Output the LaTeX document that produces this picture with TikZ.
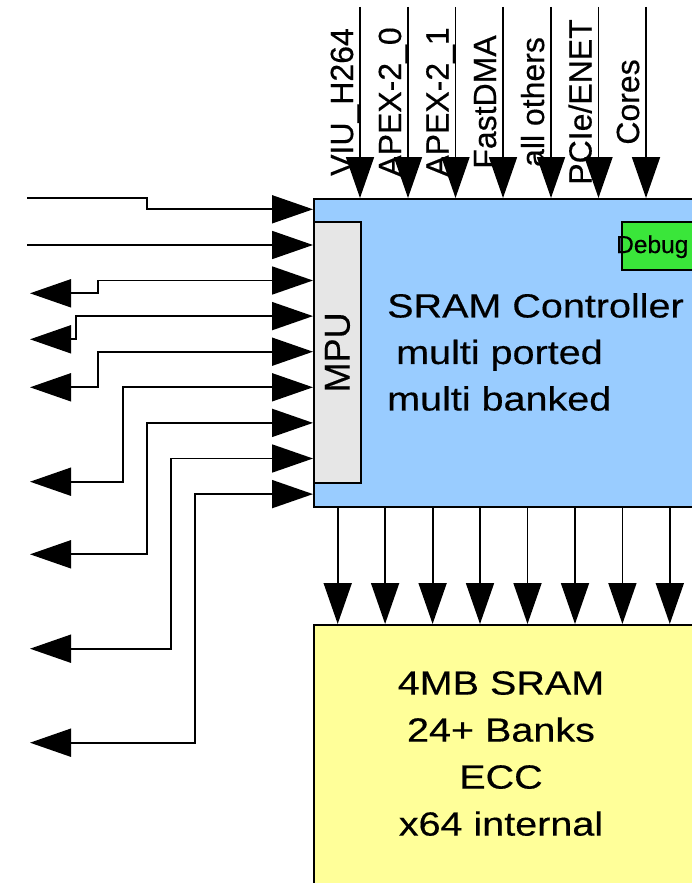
\documentclass[tikz,border=0pt]{standalone}
\usepackage{fontspec}
\setmainfont[FakeBold=0.4]{Liberation Sans}
\newfontfamily\widesans[FakeStretch=1.18,FakeBold=0.4]{Liberation Sans}
\usetikzlibrary{arrows.meta}
\definecolor{ctrlblue}{HTML}{99CCFF}
\definecolor{mpugray}{HTML}{E6E6E6}
\definecolor{dbggreen}{HTML}{3AE63A}
\definecolor{sramyellow}{HTML}{FFFF99}
\begin{document}
\begin{tikzpicture}[x=1pt,y=-1pt,
  sig/.style={line width=1.8pt,-{Triangle[length=41pt,width=28pt]}},
  bisig/.style={line width=1.8pt,{Triangle[length=41pt,width=28pt]}-{Triangle[length=41pt,width=28pt]}},
  blk/.style={draw,line width=1.8pt,inner sep=0pt,anchor=north west},
  lbl/.style={rotate=90,anchor=base,inner sep=0pt,font=\fontsize{32}{38}\selectfont}]
\clip (0,0) rectangle (692,883);
% blocks
\node[blk,fill=ctrlblue,minimum width=420pt,minimum height=308pt] (ctrl) at (313,198) {};
\node[blk,fill=mpugray,minimum width=47pt,minimum height=261pt] (mpu) at (313,221) {};
\node[rotate=90,inner sep=0pt,font=\fontsize{36}{40}\selectfont] (mputxt) at (mpu.center) {MPU};
\node[blk,fill=dbggreen,minimum width=100pt,minimum height=48pt] (dbg) at (621,221) {};
\node[anchor=base west,inner sep=0pt,font=\fontsize{24.5}{30}\selectfont] (dbgtxt) at (616,253) {Debug};
\node[anchor=north west,inner sep=0pt,align=left,font=\widesans\fontsize{33.5}{46.5}\selectfont] (ctrltxt) at (387,293)
  {SRAM Controller\\\hspace*{9pt}multi ported\\multi banked};
\node[blk,fill=sramyellow,minimum width=420pt,minimum height=300pt] (sram) at (313,624) {};
\node[anchor=north,inner sep=0pt,align=center,font=\widesans\fontsize{33.5}{47}\selectfont] (sramtxt) at (501,671)
  {4MB SRAM\\24+ Banks\\ECC\\x64 internal};
% masters on top
\foreach \x/\name [count=\i] in {360/VIU\_H264,408/APEX-2\_0,455.5/APEX-2\_1,503/FastDMA,551/all others,598.5/{PCIe/ENET},646/Cores}{
  \coordinate (src\i) at (\x,7);
  \draw[sig] (src\i) -- (src\i |- ctrl.north);
  \node[lbl] (lab\i) at (\x-7,102) {\name};
}
% ports on the left
\coordinate (in1) at (27,198);
\coordinate (in2) at (27,245);
\draw[sig] (in1) -| (147,209.3) -- (ctrl.west |- 0,209.3);
\draw[sig] (in2) -- (ctrl.west |- 0,245);
\foreach \ya/\xb/\yb [count=\k] in {280.5/98/293.3,316.1/76/339.3,351.7/98/387.3,387.3/122.7/481.7,
    422.9/146.7/554.3,458.5/170.7/648.7,494.1/195/742.7}{
  \coordinate (out\k) at (30,\yb);
  \draw[bisig] (out\k) -| (\xb,\ya) -- (ctrl.west |- 0,\ya);
}
% banks
\foreach \x in {337.7,385.1,432.6,480,527.5,575,622.4,669.8}
  \draw[sig] (ctrl.south -| \x,0) -- (sram.north -| \x,0);
\end{tikzpicture}
\end{document}
